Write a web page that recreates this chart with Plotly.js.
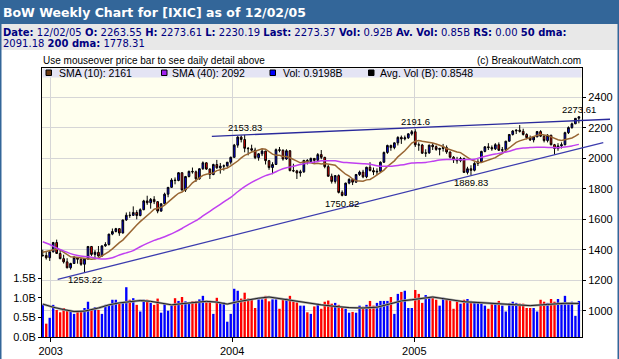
<!DOCTYPE html>
<html>
<head>
<meta charset="utf-8">
<script src="https://cdn.plot.ly/plotly-3.0.1.min.js"></script>
<style>
html,body{margin:0;padding:0;background:#ffffff;}
#chart{width:619px;height:359px;}
</style>
</head>
<body>
<div id="chart"></div>
<script>
// ---------- DATA (weekly bars, week starting Monday) ----------
const firstWeek = [2002, 11, 16]; // 16 Dec 2002 (month index 11)

const opens = [1362,1363,1348,1387,1448,1376,1342,1321,1282,1310,
1349,1338,1305,1340,1422,1370,1384,1359,1426,1435,
1503,1520,1539,1510,1596,1627,1626,1645,1625,1663,
1721,1709,1731,1716,1654,1702,1765,1810,1858,1855,
1906,1792,1881,1915,1912,1866,1932,1971,1930,1894,
1960,1938,1949,1951,1975,2007,2087,2140,2124,2066,
2064,2054,2005,2030,2048,1985,1940,1960,2057,2053,
1996,2050,1920,1918,1904,1912,1987,1979,2000,1987,
2025,2007,1946,1883,1849,1887,1777,1757,1838,1862,
1844,1894,1910,1879,1942,1920,1911,1915,1975,2039,
2085,2071,2102,2138,2128,2135,2161,2175,2089,2088,
2034,2036,2087,2077,2059,2065,2071,2042,2008,1990,
1985,1999,1908,1932,1922,1967,1977,2046,2076,2071,
2063,2090,2053,2057,2113,2157,2180,2185,2178,2157,
2136,2121,2141,2176,2146,2117,2152,2090,2065,2082,
2090,2169,2202,2227,2263.55];

const highs = [1400,1385,1388,1452,1467,1400,1368,1345,1315,1360,
1352,1346,1341,1425,1425,1398,1425,1427,1450,1505,
1540,1544,1540,1597,1645,1650,1685,1660,1672,1728,
1755,1740,1752,1720,1705,1775,1812,1870,1875,1910,
1908,1885,1920,1940,1920,1935,1980,1975,1935,1965,
1990,1970,1960,1976,2012,2095,2145,2150,2153.83,2075,
2090,2070,2035,2065,2050,1990,1975,2065,2075,2060,
2060,2055,1965,1925,1925,1990,1995,2005,2002,2035,
2055,2010,1960,1900,1890,1895,1790,1840,1870,1865,
1898,1920,1925,1945,1975,1940,1935,1980,2045,2090,
2090,2105,2145,2150,2150,2165,2186,2191.6,2105,2095,
2060,2090,2100,2085,2070,2095,2085,2045,2015,2010,
2010,2005,1945,1955,1975,1995,2050,2080,2100,2085,
2100,2105,2075,2115,2160,2185,2190,2219,2195,2165,
2150,2145,2180,2185,2155,2160,2155,2095,2100,2105,
2175,2210,2235,2265,2273.61];

const lows = [1355,1336,1327,1383,1374,1338,1310,1279,1270,1308,
1309,1295,1253.22,1335,1360,1337,1355,1355,1420,1428,
1496,1514,1492,1508,1590,1610,1625,1600,1620,1660,
1695,1670,1700,1640,1650,1700,1745,1808,1830,1850,
1790,1780,1875,1900,1845,1860,1925,1925,1865,1890,
1932,1900,1920,1945,1960,2005,2070,2105,2040,2020,
2045,1995,1985,2015,1960,1925,1896,1958,2040,1985,
1990,1915,1910,1865,1880,1905,1960,1970,1965,1980,
1995,1935,1880,1835,1835,1770,1750.82,1755,1830,1825,
1840,1885,1870,1870,1915,1890,1890,1905,1970,2030,
2050,2060,2085,2095,2118,2128,2150,2075,2050,2030,
2010,2030,2055,2050,2020,2045,2030,2000,1970,1965,
1975,1905,1895,1889.83,1915,1950,1970,2040,2055,2050,
2055,2050,2030,2040,2110,2150,2160,2170,2150,2125,
2115,2105,2140,2140,2105,2105,2085,2025,2050,2065,
2085,2160,2195,2225,2230.19];

const closes = [1363,1348,1387,1448,1376,1342,1321,1282,1310,1349,
1338,1305,1340,1422,1370,1384,1359,1426,1435,1503,
1520,1539,1510,1596,1627,1626,1645,1625,1663,1721,
1709,1731,1716,1654,1702,1765,1810,1858,1855,1906,
1792,1881,1915,1912,1866,1932,1971,1930,1894,1960,
1938,1949,1951,1975,2007,2087,2140,2124,2066,2064,
2054,2005,2030,2048,1985,1940,1960,2057,2053,1996,
2050,1920,1918,1904,1912,1987,1979,2000,1987,2025,
2007,1946,1883,1849,1887,1777,1757,1838,1862,1844,
1894,1910,1879,1942,1920,1911,1915,1975,2039,2085,
2071,2102,2138,2128,2135,2161,2175,2089,2088,2034,
2036,2087,2077,2059,2065,2071,2042,2008,1990,1985,
1999,1908,1932,1922,1967,1977,2046,2076,2071,2063,
2090,2053,2057,2113,2157,2180,2185,2178,2157,2136,
2121,2141,2176,2146,2117,2152,2090,2065,2082,2090,
2169,2202,2227,2263,2273.37];

// weekly volume, billions of shares
const volumeB = [0.82,0.34,0.49,0.82,0.69,0.63,0.74,0.69,0.66,0.59,
0.66,0.66,0.74,0.90,0.71,0.76,0.69,0.59,0.82,0.82,
0.95,0.95,0.85,0.87,1.27,0.95,0.99,0.82,0.65,0.95,
0.95,0.87,0.82,0.98,0.62,0.85,0.67,0.80,0.99,0.92,
1.02,0.91,0.87,0.91,0.92,0.96,1.05,0.92,0.92,0.59,
1.00,0.88,0.88,0.39,0.59,1.23,1.18,0.98,1.13,0.98,
0.96,0.74,0.96,0.96,1.05,0.91,0.96,0.96,0.72,0.95,
0.98,1.05,0.91,0.88,0.80,0.80,0.63,0.59,0.78,0.85,
0.72,0.90,0.93,0.85,0.87,0.82,0.78,0.72,0.62,0.64,
0.62,0.80,0.77,0.82,0.92,0.80,0.87,0.92,0.92,0.92,
1.02,0.59,1.10,1.15,1.18,0.74,0.74,1.20,1.10,0.87,
1.07,1.00,1.00,0.95,0.80,1.00,0.97,0.96,0.72,0.92,
0.85,0.95,0.97,0.92,0.90,0.87,0.85,0.80,0.72,0.85,
0.85,0.92,0.80,0.65,0.87,0.90,0.87,0.85,0.85,0.74,
0.74,0.74,0.65,0.95,0.90,0.87,0.97,0.90,0.97,0.87,
1.05,0.85,0.90,0.54,0.92];

// 10-week SMA of close, one value per week
const sma10 = [1384,1390,1396,1405,1406,1400,1385,1365,1354,1353,
1350,1346,1341,1339,1338,1342,1346,1360,1373,1388,
1406,1430,1447,1464,1490,1514,1543,1563,1585,1607,
1626,1645,1666,1672,1679,1693,1710,1733,1752,1771,
1779,1794,1814,1840,1856,1873,1889,1896,1900,1905,
1920,1927,1930,1937,1951,1966,1983,2003,2020,2030,
2042,2047,2055,2063,2060,2046,2028,2021,2020,2013,
2012,2004,1993,1978,1971,1976,1978,1972,1965,1968,
1964,1967,1963,1958,1955,1934,1912,1896,1883,1865,
1854,1850,1850,1859,1862,1876,1892,1905,1923,1947,
1965,1984,2010,2028,2050,2075,2101,2112,2117,2112,
2109,2107,2101,2094,2087,2078,2065,2057,2047,2042,
2038,2020,2006,1992,1982,1973,1973,1980,1988,1996,
2005,2020,2032,2051,2070,2091,2105,2115,2123,2131,
2134,2143,2154,2158,2154,2151,2141,2130,2123,2118,
2123,2129,2134,2146,2161];

// 40-week SMA, read every second week
const sma40Week = [0,2,4,6,8,10,12,14,16,18,20,22,24,26,28,30,32,34,36,38,
40,42,44,46,48,50,52,54,56,58,60,62,64,66,68,70,72,74,76,78,
80,82,84,86,88,90,92,94,96,98,100,102,104,106,108,110,112,114,116,118,
120,122,124,126,128,130,132,134,136,138,140,142,144,146,148,150,152,154];
const sma40 = [1453,1435,1412,1393,1375,1363,1356,1351,1342,1340,1348,1366,1380,1395,1420,1442,1462,1478,1496,1516,
1540,1567,1591,1622,1653,1683,1714,1744,1781,1814,1842,1866,1887,1902,1923,1938,1948,1960,1969,1976,
1984,1985,1984,1975,1972,1968,1965,1962,1952,1948,1949,1954,1960,1970,1972,1973,1981,1989,1992,1993,
1991,1992,1995,2008,2019,2029,2037,2047,2061,2069,2071,2073,2073,2071,2070,2075,2082,2092];

// average volume (billions), read at these weeks
const avgVolWeek = [0,3,6,9,12,16,19,22,25,28,31,34,37,40,43,47,50,53,56,59,62,65,68,71,74,77,80,84,88,92,96,100,103,106,109,112,115,118,121,125,130,135,140,145,150,154];
const avgVolB = [0.84,0.76,0.70,0.65,0.66,0.74,0.82,0.87,0.90,0.93,0.91,0.87,0.82,0.85,0.88,0.91,0.89,0.84,0.90,0.95,0.99,1.02,0.98,0.94,0.90,0.85,0.82,0.78,0.75,0.74,0.76,0.85,0.92,0.95,0.99,1.02,0.98,0.94,0.90,0.88,0.85,0.82,0.80,0.83,0.86,0.855];

// trend lines (date, price)
const trendUpperDates = ['2003-11-21', '2006-01-30'];
const trendUpperPrices = [2145, 2257];
const trendLowerDates = ['2003-01-15', '2006-01-16'];
const trendLowerPrices = [1206, 2104];

// labelled extremes: week index and which end of the bar
const labelWeek = [12, 58, 86, 107, 123, 154];
const labelSide = ['low', 'high', 'low', 'high', 'low', 'high'];

const priceTicks = [1000, 1200, 1400, 1600, 1800, 2000, 2200, 2400];
const volTicks = [0, 0.5, 1.0, 1.5];
const volTickText = ['0.0B', '0.5B', '1.0B', '1.5B'];

const legendLabels = ['SMA (10): 2161', 'SMA (40): 2092', 'Vol: 0.9198B', 'Avg. Vol (B): 0.8548'];

// ---------- BUILD ----------
const DAY = 86400000;
const startMs = Date.UTC(firstWeek[0], firstWeek[1], firstWeek[2]);
const weeks = closes.map((_, i) => new Date(startMs + i * 7 * DAY).toISOString().slice(0, 10));
const fmt = ms => new Date(ms).toISOString().replace('T', ' ').slice(0, 19);

const W = 619, H = 359;
const M = {l: 42, r: 9, t: 68, b: 22};
const PW = W - M.l - M.r, PH = H - M.t - M.b;
const PLOTW = 540;
const mainFrac = PLOTW / PW;
const fx = x => (x - M.l) / PW;
const fy = y => 1 - (y - M.t) / PH;

const xr0 = Date.UTC(2002, 11, 14, 12);
const xr1 = Date.UTC(2005, 11, 4, 6);
const xr3 = xr0 + (xr1 - xr0) * PW / PLOTW;
const yRange = [827.8, 2593.3];
const volMax = 6.862;

const SANS = 'Liberation Sans, Arial, sans-serif';
const VERD = 'DejaVu Sans, Verdana, sans-serif';

const barColors = closes.map((c, i) => c >= opens[i] ? '#0000FF' : '#FF0000');

const traces = [
  {
    type: 'bar', x: weeks, y: volumeB.map(v => v * 1e9), xaxis: 'x', yaxis: 'y2',
    marker: {color: barColors, line: {width: 0}}, hoverinfo: 'skip'
  },
  {
    type: 'scatter', mode: 'lines', x: avgVolWeek.map(i => weeks[i]), y: avgVolB.map(v => v * 1e9),
    xaxis: 'x', yaxis: 'y2', line: {color: '#a0a0a0', width: 2.4}, hoverinfo: 'skip'
  },
  {
    type: 'scatter', mode: 'lines', x: avgVolWeek.map(i => weeks[i]), y: avgVolB.map(v => v * 1e9),
    xaxis: 'x', yaxis: 'y2', line: {color: '#222222', width: 1}, hoverinfo: 'skip'
  },
  {
    type: 'candlestick', x: weeks, open: opens, high: highs, low: lows, close: closes,
    xaxis: 'x', yaxis: 'y', whiskerwidth: 0,
    increasing: {line: {color: '#000000', width: 1}, fillcolor: '#0000FF'},
    decreasing: {line: {color: '#000000', width: 1}, fillcolor: '#FF0000'},
    hoverinfo: 'skip'
  },
  {
    type: 'scatter', mode: 'lines', x: weeks, y: sma10, xaxis: 'x', yaxis: 'y',
    line: {color: '#996633', width: 1.5}, hoverinfo: 'skip'
  },
  {
    type: 'scatter', mode: 'lines', x: sma40Week.map(i => weeks[i]), y: sma40, xaxis: 'x', yaxis: 'y',
    line: {color: '#C040F0', width: 1.5, shape: 'spline', smoothing: 0.6}, hoverinfo: 'skip'
  },
  {
    type: 'scatter', mode: 'lines', x: trendUpperDates, y: trendUpperPrices, xaxis: 'x3', yaxis: 'y3',
    line: {color: '#2a2a9c', width: 1.3}, hoverinfo: 'skip'
  },
  {
    type: 'scatter', mode: 'lines', x: trendLowerDates, y: trendLowerPrices, xaxis: 'x3', yaxis: 'y3',
    line: {color: '#3c3cae', width: 1.3}, hoverinfo: 'skip'
  }
];

function rect(x0, y0, x1, y1, fill, layer, line) {
  return {type: 'rect', xref: 'paper', yref: 'paper',
    x0: fx(x0), x1: fx(x1), y0: fy(y1), y1: fy(y0),
    fillcolor: fill, line: line || {width: 0}, layer: layer || 'above'};
}
function txt(x, y, text, size, family, color, xanchor, extra) {
  return Object.assign({xref: 'paper', yref: 'paper', x: fx(x), y: fy(y), text: text,
    showarrow: false, xanchor: xanchor || 'left', yanchor: 'middle', borderpad: 0,
    font: {family: family, size: size, color: color}}, extra || {});
}

const shapes = [
  rect(0, 0, W, 24, '#336699'),
  rect(0, 24, W, 50, '#E8E8E8'),
  rect(0, 24, 1.5, H, '#336699'),
  rect(W - 1.5, 24, W, H, '#336699'),
  {type: 'rect', xref: 'paper', yref: 'paper', x0: 0, x1: mainFrac, y0: 0, y1: 1,
    fillcolor: '#FFFFEE', line: {width: 0}, layer: 'below'},
  rect(42.5, 68.5, 581.5, 77.5, '#E4E4F4'),
  rect(46, 70, 51.5, 75.5, '#6B3A12', 'above', {color: '#000', width: 1}),
  rect(161.5, 70, 167, 75.5, '#A020F0', 'above', {color: '#000', width: 1}),
  rect(270, 70, 275.5, 75.5, '#0000FF', 'above', {color: '#000', width: 1}),
  rect(368.5, 70, 374, 75.5, '#000000', 'above', {color: '#000', width: 1})
];

const annotations = [
  txt(1.5, 12.3, 'BoW Weekly Chart for [IXIC] as of 12/02/05', 12.5, VERD, '#FFFFFF', 'left', {font: {family: VERD, size: 12.5, color: '#FFFFFF', weight: 'bold'}}),
  txt(1.5, 32.3, '<b>Date:</b> 12/02/05 <b>O:</b> 2263.55 <b>H:</b> 2273.61 <b>L:</b> 2230.19 <b>Last:</b> 2273.37 <b>Vol:</b> 0.92B <b>Av. Vol:</b> 0.85B <b>RS:</b> 0.00 <b>50 dma:</b>', 10, VERD, '#000080'),
  txt(1.5, 43.7, '2091.18 <b>200 dma:</b> 1778.31', 10, VERD, '#000080'),
  txt(41.5, 60.3, 'Use mouseover price bar to see daily detail above', 10, SANS, '#000000'),
  txt(581.5, 60.3, '(c) BreakoutWatch.com', 10, SANS, '#000000', 'right'),
  txt(58, 72.8, legendLabels[0], 10.5, SANS, '#000000'),
  txt(170.5, 72.8, legendLabels[1], 10.5, SANS, '#000000'),
  txt(282, 72.8, legendLabels[2], 10.5, SANS, '#000000'),
  txt(379, 72.8, legendLabels[3], 10.5, SANS, '#000000')
];

labelWeek.forEach((wi, k) => {
  const isHigh = labelSide[k] === 'high';
  const v = isHigh ? highs[wi] : lows[wi];
  annotations.push({
    xref: 'x', yref: 'y', x: weeks[wi], y: v, text: String(v), showarrow: false,
    xanchor: 'center', yanchor: isHigh ? 'bottom' : 'top', yshift: isHigh ? 1 : -1, borderpad: 0,
    font: {family: SANS, size: 9.5, color: '#000000'}
  });
});

const tickFont = {family: SANS, size: 11, color: '#000000'};

const layout = {
  width: W, height: H, margin: M,
  paper_bgcolor: '#FFFFFF', plot_bgcolor: 'rgba(0,0,0,0)',
  showlegend: false, bargap: 0.32, dragmode: false,
  font: {family: SANS, size: 11, color: '#000'},
  xaxis: {
    type: 'date', domain: [0, mainFrac], anchor: 'y', range: [fmt(xr0), fmt(xr1)],
    showgrid: true, gridcolor: '#D6D6D6', gridwidth: 1,
    tick0: '2003-01-01', dtick: 'M12', tickformat: '%Y',
    ticks: 'outside', ticklen: 4, tickcolor: '#000',
    showline: true, mirror: true, linecolor: '#000', linewidth: 1,
    zeroline: false, tickfont: tickFont, rangeslider: {visible: false}, fixedrange: true
  },
  yaxis: {
    domain: [0, 1], anchor: 'x', side: 'right', range: yRange,
    tickmode: 'array', tickvals: priceTicks,
    showgrid: true, gridcolor: '#D6D6D6', gridwidth: 1,
    ticks: 'outside', ticklen: 3, tickcolor: '#000',
    showline: true, mirror: true, linecolor: '#000', linewidth: 1,
    zeroline: false, tickfont: tickFont, fixedrange: true
  },
  yaxis2: {
    overlaying: 'y', anchor: 'x', side: 'left', range: [0, volMax * 1e9],
    tickmode: 'array', tickvals: volTicks.map(v => v * 1e9), ticktext: volTickText,
    showgrid: false, ticks: 'outside', ticklen: 3, tickcolor: '#000',
    showline: false, zeroline: false, tickfont: tickFont, fixedrange: true
  },
  xaxis3: {type: 'date', domain: [0, 1], anchor: 'y3', range: [fmt(xr0), fmt(xr3)], visible: false, fixedrange: true},
  yaxis3: {domain: [0, 1], anchor: 'x3', range: yRange, visible: false, fixedrange: true},
  shapes: shapes,
  annotations: annotations
};

Plotly.newPlot('chart', traces, layout, {staticPlot: true, displayModeBar: false});
</script>
</body>
</html>
